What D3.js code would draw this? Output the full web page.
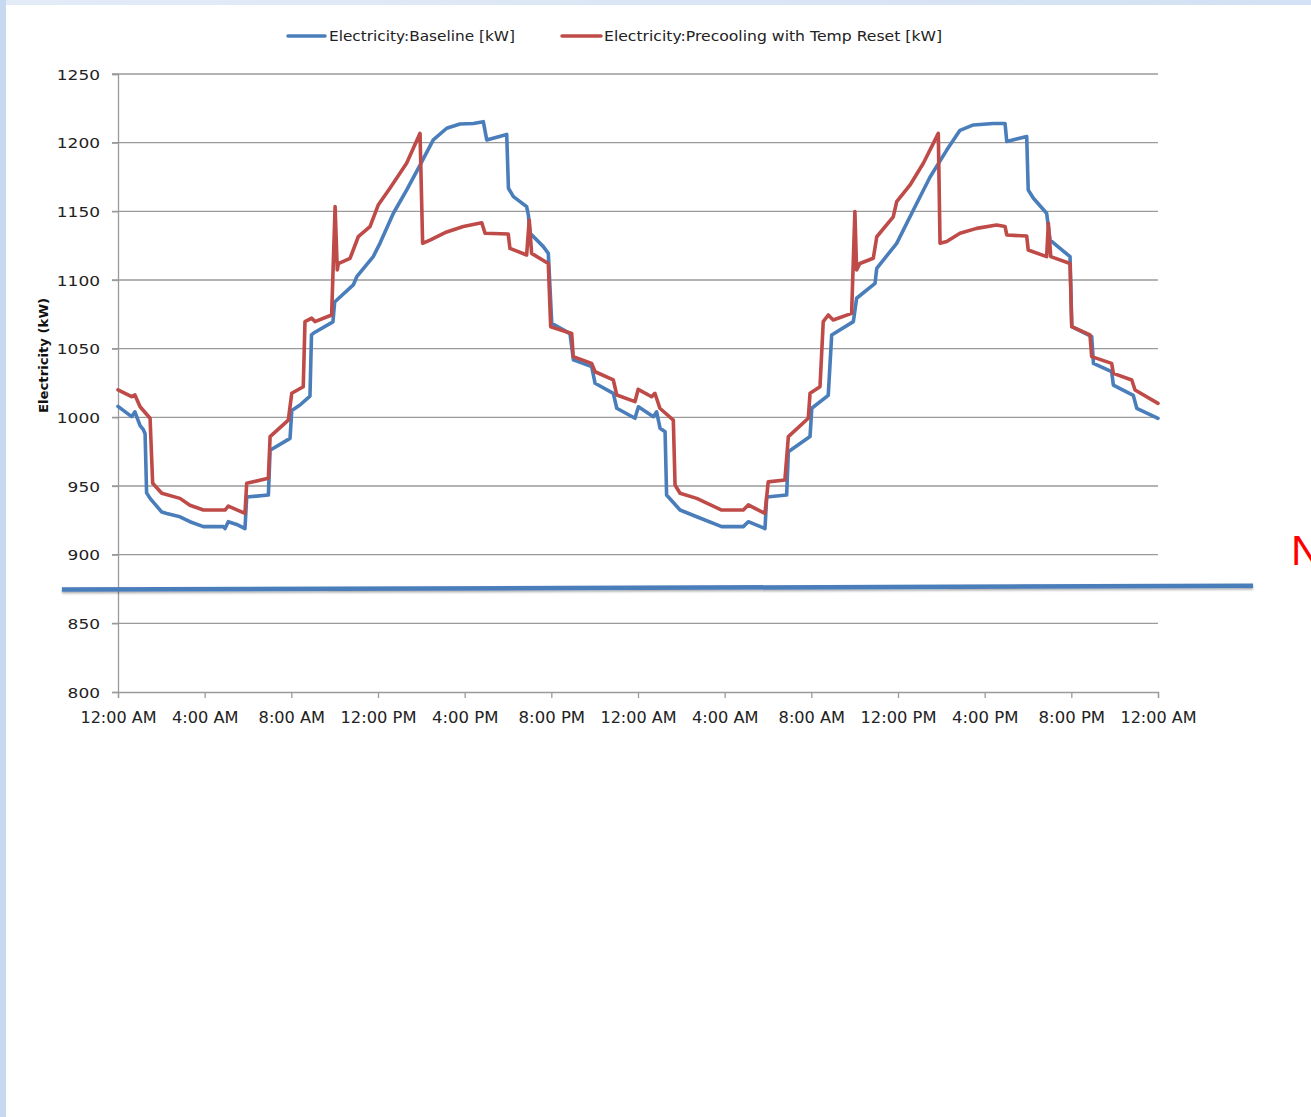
<!DOCTYPE html>
<html>
<head>
<meta charset="utf-8">
<script src="https://cdn.jsdelivr.net/npm/d3@7"></script>
<style>
  html, body { margin: 0; padding: 0; background: #ffffff; }
  svg { display: block; }
</style>
</head>
<body>
<script>
// ---- DATA ----
const seriesNames = ["Electricity:Baseline [kW]", "Electricity:Precooling with Temp Reset [kW]"];
const yAxisTitle = "Electricity (kW)";
const xTickHours = [0, 4, 8, 12, 16, 20, 24, 28, 32, 36, 40, 44, 48];
const xTickLabels = ["12:00 AM", "4:00 AM", "8:00 AM", "12:00 PM", "4:00 PM", "8:00 PM",
                     "12:00 AM", "4:00 AM", "8:00 AM", "12:00 PM", "4:00 PM", "8:00 PM", "12:00 AM"];
const yTickValues = [800, 850, 900, 950, 1000, 1050, 1100, 1150, 1200, 1250];
const yTickLabels = ["800", "850", "900", "950", "1000", "1050", "1100", "1150", "1200", "1250"];

// [hour, kW]
const baseline = [
  [0, 1008], [0.63, 1000.5], [0.78, 1004], [1.02, 994], [1.17, 991], [1.25, 988],
  [1.32, 945], [1.48, 941], [2.02, 931], [2.25, 930], [2.86, 927.6], [3.32, 924],
  [3.94, 920.4], [4.86, 920.4], [4.94, 919], [5.09, 924], [5.48, 922], [5.86, 919],
  [5.94, 942], [6.94, 943.4], [7.02, 976], [7.94, 984.7], [8.02, 1005], [8.4, 1009],
  [8.86, 1015.5], [8.93, 1060], [9.09, 1062], [9.92, 1069.5], [10.0, 1084],
  [10.86, 1096.4], [11.02, 1102.4], [11.78, 1117], [12.09, 1126.7], [12.71, 1148.6],
  [13.32, 1165.5], [13.94, 1183.7], [14.55, 1202], [15.17, 1210.5], [15.78, 1213.6],
  [16.4, 1214], [16.86, 1215.3], [17.02, 1202], [17.94, 1206], [18.02, 1166.8],
  [18.25, 1160.7], [18.86, 1153.4], [18.94, 1147.3], [19.02, 1134], [19.63, 1124.3],
  [19.86, 1119.4], [20.02, 1068.4], [20.86, 1061], [21.02, 1041.8], [21.86, 1036.9],
  [22.02, 1024.8], [22.86, 1017.5], [23.02, 1006.6], [23.86, 999.3], [24.02, 1007.7],
  [24.71, 1000.5], [24.86, 1004], [25.02, 992], [25.25, 989.5], [25.32, 943.4],
  [25.94, 932.5], [26.71, 927.6], [27.86, 920.4], [28.86, 920.4], [29.09, 924],
  [29.86, 919], [29.94, 942], [30.86, 943.4], [30.94, 975], [31.94, 986],
  [32.02, 1006.6], [32.78, 1016], [32.94, 1060], [33.94, 1069.7], [34.09, 1086.7],
  [34.94, 1097.6], [35.02, 1108.5], [35.94, 1126.7], [36.71, 1151], [37.48, 1175],
  [38.25, 1194.6], [38.86, 1209], [39.48, 1212.9], [40.4, 1214], [40.94, 1214],
  [41.02, 1200.8], [41.94, 1204.5], [42.01, 1165.5], [42.25, 1159.5], [42.86, 1148.6],
  [43.02, 1129], [43.94, 1117], [44.02, 1066], [44.94, 1058.7], [45.02, 1039.3],
  [45.86, 1033.2], [45.94, 1023.5], [46.86, 1016], [47.02, 1006.6], [48, 999.3]
];

const precooling = [
  [0, 1020], [0.63, 1015], [0.78, 1016.3], [1.02, 1007.7], [1.48, 999.3], [1.6, 952],
  [2.02, 944.7], [2.86, 941], [3.32, 936], [3.94, 932.5], [4.94, 932.5], [5.09, 935.4],
  [5.86, 930], [5.94, 952], [6.94, 955.7], [7.02, 986], [7.86, 998], [8.02, 1017.5],
  [8.55, 1022.3], [8.63, 1069.7], [8.94, 1072.2], [9.09, 1069.7], [9.86, 1074.5],
  [10.02, 1153.4], [10.12, 1107.3], [10.17, 1112], [10.71, 1115.8], [11.09, 1131.5],
  [11.63, 1138.8], [12.01, 1154.6], [12.55, 1166.8], [13.32, 1185], [13.94, 1206.8],
  [14.06, 1126.7], [14.4, 1129], [15.17, 1135], [15.94, 1139], [16.79, 1141.7],
  [16.94, 1134], [18.01, 1133.5], [18.09, 1123], [18.86, 1118.2], [18.98, 1143.7],
  [19.09, 1119.4], [19.86, 1112], [19.97, 1066], [20.94, 1061], [21.01, 1044.2],
  [21.86, 1039.3], [22.02, 1033.2], [22.86, 1027.2], [23.02, 1016.3], [23.86, 1011.4],
  [24.01, 1020.4], [24.63, 1015], [24.78, 1017.5], [25.01, 1006.6], [25.63, 998],
  [25.71, 950.7], [25.94, 944.7], [26.71, 941], [27.86, 932.5], [28.86, 932.5],
  [29.09, 936.2], [29.86, 930], [30.01, 953], [30.78, 954.4], [30.94, 986],
  [31.86, 999.3], [31.94, 1017.5], [32.4, 1022.3], [32.55, 1069.7], [32.78, 1074.5],
  [33.01, 1070.9], [33.86, 1075.7], [34.01, 1149.8], [34.09, 1107.3], [34.24, 1112],
  [34.86, 1115.8], [35.02, 1131.5], [35.78, 1146], [35.94, 1157], [36.55, 1169],
  [37.17, 1185], [37.86, 1206.8], [37.94, 1126.7], [38.25, 1128], [38.86, 1134],
  [39.63, 1137.6], [40.55, 1140], [40.94, 1139], [41.02, 1132.8], [41.94, 1132],
  [42.01, 1121.8], [42.86, 1117], [42.94, 1141.3], [43.05, 1117], [43.94, 1112],
  [44.02, 1066], [44.86, 1060], [44.94, 1044.2], [45.86, 1039.3], [45.94, 1032],
  [46.79, 1027.2], [46.94, 1019.9], [48, 1010.2]
];

const markerLevel = [874.6, 877.3]; // thick blue horizontal rule, left & right ends (kW)
const sideLetter = "N";

// ---- DRAWING ----
const W = 1311, H = 1117;
const svg = d3.select("body").append("svg").attr("width", W).attr("height", H);

const defs = svg.append("defs");
const grad = defs.append("linearGradient").attr("id", "topgrad");
grad.append("stop").attr("offset", "0%").attr("stop-color", "#e3ebf7");
grad.append("stop").attr("offset", "100%").attr("stop-color", "#d3e1f4");
const sh = defs.append("filter").attr("id", "shadow").attr("x", "-5%").attr("y", "-200%").attr("width", "110%").attr("height", "500%");
sh.append("feDropShadow").attr("dx", 0).attr("dy", 1.5).attr("stdDeviation", 1.2).attr("flood-color", "#000").attr("flood-opacity", 0.35);

svg.append("rect").attr("width", W).attr("height", H).attr("fill", "#ffffff");
svg.append("rect").attr("x", 0).attr("y", 0).attr("width", W).attr("height", 5).attr("fill", "url(#topgrad)");
svg.append("rect").attr("x", 0).attr("y", 0).attr("width", 6).attr("height", H).attr("fill", "#c6d9f1");

const x = d3.scaleLinear().domain([0, 48]).range([118, 1158]);
const y = d3.scaleLinear().domain([800, 1250]).range([692, 74]);

const gridColor = "#9a9a9a";
const fontFam = "'DejaVu Sans', sans-serif";

// gridlines
svg.append("g").selectAll("line").data(yTickValues.filter(v => v > 800)).join("line")
  .attr("x1", 112).attr("x2", x(48))
  .attr("y1", d => y(d)).attr("y2", d => y(d))
  .attr("stroke", gridColor).attr("stroke-width", 1.3);

// y axis
const yAxis = d3.axisLeft(y).tickValues(yTickValues)
  .tickFormat((d, i) => yTickLabels[i]).tickSize(6).tickPadding(12);
const gy = svg.append("g").attr("transform", `translate(${x(0)},0)`).call(yAxis);
gy.select(".domain").attr("stroke", gridColor).attr("stroke-width", 1.3);
gy.selectAll(".tick line").attr("stroke", gridColor).attr("stroke-width", 1.3);
gy.selectAll(".tick text").attr("font-family", fontFam).attr("font-size", 14.5)
  .attr("fill", "#222").attr("dy", "0.36em")
  .attr("textLength", (d, i) => yTickLabels[i].length * 10.8).attr("lengthAdjust", "spacingAndGlyphs");

// x axis
const xAxis = d3.axisBottom(x).tickValues(xTickHours)
  .tickFormat((d, i) => xTickLabels[i]).tickSize(6).tickPadding(14);
const gx = svg.append("g").attr("transform", `translate(0,${y(800)})`).call(xAxis);
gx.select(".domain").attr("stroke", gridColor).attr("stroke-width", 1.3);
gx.selectAll(".tick line").attr("stroke", gridColor).attr("stroke-width", 1.3);
gx.selectAll(".tick text").attr("font-family", fontFam).attr("font-size", 15)
  .attr("fill", "#222")
  .attr("textLength", (d, i) => xTickLabels[i].length * 9.5).attr("lengthAdjust", "spacingAndGlyphs");

// y axis title
svg.append("text")
  .attr("transform", `translate(48,${(298 + 413) / 2}) rotate(-90)`)
  .attr("text-anchor", "middle")
  .attr("font-family", fontFam).attr("font-size", 13).attr("font-weight", "bold")
  .attr("fill", "#111")
  .attr("textLength", 115).attr("lengthAdjust", "spacingAndGlyphs")
  .text(yAxisTitle);

// series lines
const line = d3.line().x(d => x(d[0])).y(d => y(d[1]));
const colors = ["#4a7ebb", "#be4b48"];
svg.append("path").datum(baseline).attr("d", line)
  .attr("fill", "none").attr("stroke", colors[0]).attr("stroke-width", 3.6)
  .attr("stroke-linejoin", "round").attr("stroke-linecap", "round");
svg.append("path").datum(precooling).attr("d", line)
  .attr("fill", "none").attr("stroke", colors[1]).attr("stroke-width", 3.6)
  .attr("stroke-linejoin", "round").attr("stroke-linecap", "round");

// legend
const legendItems = [
  { x1: 288, x2: 325, tx: 329, tw: 186 },
  { x1: 562, x2: 601, tx: 604, tw: 338 }
];
const lg = svg.append("g");
legendItems.forEach((it, i) => {
  lg.append("line").attr("x1", it.x1).attr("x2", it.x2).attr("y1", 36).attr("y2", 36)
    .attr("stroke", colors[i]).attr("stroke-width", 3.5).attr("stroke-linecap", "round");
  lg.append("text").attr("x", it.tx).attr("y", 36).attr("dy", "0.35em")
    .attr("font-family", fontFam).attr("font-size", 13.5).attr("fill", "#222")
    .attr("textLength", it.tw).attr("lengthAdjust", "spacingAndGlyphs")
    .text(seriesNames[i]);
});

// thick blue rule
const xr = d3.scaleLinear().domain([0, 1]).range([62, 1253]);
svg.append("line")
  .attr("x1", xr(0)).attr("x2", xr(1))
  .attr("y1", y(markerLevel[0])).attr("y2", y(markerLevel[1]))
  .attr("stroke", "#4a7ebb").attr("stroke-width", 4.5)
  .attr("filter", "url(#shadow)");

// red letter at right edge (cut off by the page edge, as in the reference)
svg.append("text").attr("x", 1291).attr("y", 565)
  .attr("font-family", "'Liberation Sans', Arial, sans-serif").attr("font-size", 42)
  .attr("fill", "#ff0000").text(sideLetter);
</script>
</body>
</html>
